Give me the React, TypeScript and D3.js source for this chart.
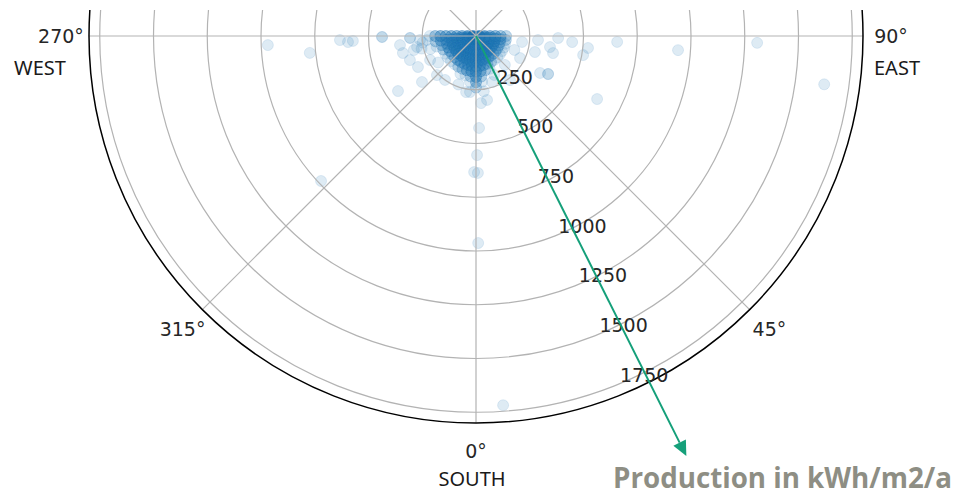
import React from "react";
import * as d3 from "d3";

// Polar chart of PV roof sites: azimuth (0° = south) vs. yearly production.
const WIDTH = 959;
const HEIGHT = 494;

const ringTicks = [250, 500, 750, 1000, 1250, 1500, 1750];
const spokeAngles = [0, 45, 90, 135, 180, 225, 270, 315];
const angleLabels = [270, 315, 0, 45, 90];
const maxProduction = 1800;
const rLabelAngle = 22.5;

// Scattered sites: [azimuth°, production kWh/m2/a, sites at this value]
const sparseSites: [number, number, number?][] = [
  [272.5, 969], [275.8, 777], [271.7, 633], [272.7, 596], [272.3, 573],
  [270.6, 437, 2], [276.8, 356], [290, 327], [298.1, 306], [310.4, 330],
  [305.2, 444], [283.1, 349], [271.7, 307, 2], [280.6, 279], [274.7, 229],
  [282.7, 296], [274, 261],
  [82.6, 216], [86.3, 289], [74.8, 284], [81.5, 348], [77.5, 367],
  [88.6, 382], [86.4, 448], [83.9, 524], [79.9, 506], [87.6, 657],
  [86, 942], [60, 344], [62.2, 379, 2], [62.5, 635], [88.6, 1308], [82.1, 1635],
  [313.1, 987], [0.6, 963], [4.2, 1722], [359.2, 633], [0.8, 637],
  [0.5, 554], [1.9, 428], [4.3, 313], [9.8, 302], [19.2, 227], [353.9, 262],
  [37.7, 259], [63.4, 229], [315, 257], [297.6, 241], [324.8, 250],
  [277, 250], [283, 260], [286, 220], [305, 215], [340, 240], [350, 265],
  [8, 260], [25, 200], [45, 190], [70, 190],
];

// Dense core near the origin, binned: sites per (azimuth row, production column)
const clusterAzimuths = [
  270, 277.5, 285, 292.5, 300, 307.5, 315, 322.5, 330, 337.5, 345, 352.5,
  0, 7.5, 15, 22.5, 30, 37.5, 45, 52.5, 60, 67.5, 75, 82.5, 90,
];
const clusterProductions = [15, 40, 65, 90, 115, 140, 165, 190, 215, 240];
const clusterCounts = [
  [4, 4, 4, 4, 4, 4, 4, 3, 1, 0],
  [4, 4, 4, 4, 4, 4, 3, 2, 0, 0],
  [4, 4, 4, 4, 4, 3, 2, 1, 0, 0],
  [4, 4, 4, 4, 4, 3, 2, 0, 0, 0],
  [4, 4, 4, 4, 4, 3, 1, 0, 0, 0],
  [4, 4, 4, 4, 4, 2, 1, 0, 0, 0],
  [4, 4, 4, 4, 4, 2, 1, 0, 0, 0],
  [4, 4, 4, 4, 4, 3, 1, 0, 0, 0],
  [4, 4, 4, 4, 4, 3, 2, 0, 0, 0],
  [4, 4, 4, 4, 4, 3, 2, 1, 0, 0],
  [4, 4, 4, 4, 4, 4, 3, 1, 0, 0],
  [4, 4, 4, 4, 4, 4, 4, 2, 1, 0],
  [4, 4, 4, 4, 4, 4, 4, 4, 3, 2],
  [4, 4, 4, 4, 4, 4, 3, 2, 1, 0],
  [4, 4, 4, 4, 4, 3, 2, 0, 0, 0],
  [4, 4, 4, 4, 3, 2, 1, 0, 0, 0],
  [4, 4, 4, 4, 3, 2, 0, 0, 0, 0],
  [4, 4, 4, 4, 2, 1, 0, 0, 0, 0],
  [4, 4, 4, 3, 2, 1, 0, 0, 0, 0],
  [4, 4, 4, 3, 2, 1, 0, 0, 0, 0],
  [4, 4, 4, 3, 2, 1, 0, 0, 0, 0],
  [4, 4, 4, 3, 2, 1, 0, 0, 0, 0],
  [4, 4, 4, 4, 2, 1, 0, 0, 0, 0],
  [4, 4, 4, 4, 3, 2, 0, 0, 0, 0],
  [4, 4, 4, 4, 3, 2, 0, 0, 0, 0],
];

// Direction arrow for the production axis
const arrowAzimuth = 26.6;
const arrowReach = 2185;

export default function App() {
  const cx = 476;
  const cy = 36;
  const outer = 387;
  const r = d3.scaleLinear().domain([0, maxProduction]).range([0, outer]);

  const toXY = (az: number, v: number): [number, number] => {
    const a = (az * Math.PI) / 180;
    const rr = r(v);
    return [cx + rr * Math.sin(a), cy + rr * Math.cos(a)];
  };
  const toXYpx = (az: number, px: number): [number, number] => {
    const a = (az * Math.PI) / 180;
    return [cx + px * Math.sin(a), cy + px * Math.cos(a)];
  };

  const clusterSites: [number, number, number][] = clusterAzimuths.flatMap((az, i) =>
    clusterProductions.map((v, j) => [az, v, clusterCounts[i][j]] as [number, number, number])
  );

  const dots = [...clusterSites, ...sparseSites].flatMap(([az, v, n]) =>
    d3.range(n ?? 1).map((i) => ({ az, v, key: `${az}-${v}-${i}` }))
  );

  const blue = "#1f77b4";
  const grid = "#b3b3b3";
  const green = "#15a07a";
  const num = "DejaVu Sans, sans-serif";

  const [ax0, ay0] = toXY(arrowAzimuth, 0);
  const [ax1, ay1] = toXY(arrowAzimuth, arrowReach);
  const ang = Math.atan2(ay1 - ay0, ax1 - ax0);
  const headLen = 15;
  const headHalf = 7;
  const bx = ax1 - headLen * Math.cos(ang);
  const by = ay1 - headLen * Math.sin(ang);
  const head = [
    [ax1, ay1],
    [bx + headHalf * Math.sin(ang), by - headHalf * Math.cos(ang)],
    [bx - headHalf * Math.sin(ang), by + headHalf * Math.cos(ang)],
  ];

  return (
    <svg
      width={WIDTH}
      height={HEIGHT}
      style={{ position: "absolute", left: 0, top: 0, background: "#fff" }}
    >
      <defs>
        <clipPath id="plotClip">
          <rect x={0} y={10} width={WIDTH} height={HEIGHT - 10} />
        </clipPath>
      </defs>
      <g clipPath="url(#plotClip)">
        {dots.map((d) => {
          const [x, y] = toXY(d.az, d.v);
          return (
            <circle
              key={d.key}
              cx={x}
              cy={y}
              r={5.5}
              fill={blue}
              fillOpacity={0.15}
              stroke={blue}
              strokeOpacity={0.12}
              strokeWidth={1}
            />
          );
        })}
        {ringTicks.map((t) => (
          <circle key={t} cx={cx} cy={cy} r={r(t)} fill="none" stroke={grid} strokeWidth={1.2} />
        ))}
        {spokeAngles.map((a) => {
          const [x, y] = toXY(a, maxProduction);
          return <line key={a} x1={cx} y1={cy} x2={x} y2={y} stroke={grid} strokeWidth={1.2} />;
        })}
        <circle cx={cx} cy={cy} r={r(maxProduction)} fill="none" stroke="#000" strokeWidth={1.5} />
      </g>

      {ringTicks.map((t) => {
        const [x, y] = toXY(rLabelAngle, t);
        return (
          <text key={t} x={x} y={y - 2} fontFamily={num} fontSize={19} fill="#262626">
            {t}
          </text>
        );
      })}

      {angleLabels.map((a) => {
        const [x, y] = toXYpx(a, outer + 28);
        return (
          <text
            key={a}
            x={x}
            y={y}
            dy="0.36em"
            textAnchor="middle"
            fontFamily={num}
            fontSize={19}
            fill="#262626"
          >
            {`${a}°`}
          </text>
        );
      })}

      <g fontFamily="Noto Sans, sans-serif" fontSize={20} fill="#1a1a1a">
        <text x={40} y={75} textAnchor="middle">WEST</text>
        <text x={874} y={75}>EAST</text>
        <text x={472} y={486} textAnchor="middle">SOUTH</text>
      </g>

      <line x1={ax0} y1={ay0} x2={bx} y2={by} stroke={green} strokeWidth={2} />
      <polygon points={head.map((p) => p.join(",")).join(" ")} fill={green} />

      <text
        x={613}
        y={488}
        fontFamily="Open Sans, sans-serif"
        fontWeight="bold"
        fontSize={28}
        fill="#8e8e84"
        textLength={339}
        lengthAdjust="spacingAndGlyphs"
      >
        Production in kWh/m2/a
      </text>
    </svg>
  );
}
